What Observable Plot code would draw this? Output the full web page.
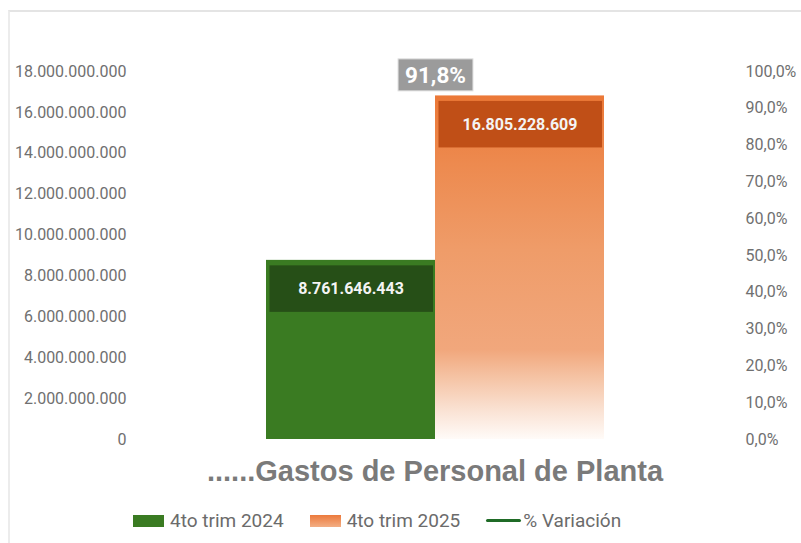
<!DOCTYPE html>
<html>
<head>
<meta charset="utf-8">
<script src="https://cdn.jsdelivr.net/npm/d3@7"></script>
<script src="https://cdn.jsdelivr.net/npm/@observablehq/plot@0.6"></script>
<style>
  body { margin: 0; background: #fff; }
  #wrap { position: relative; width: 801px; height: 543px; overflow: hidden; font-family: Roboto, "Liberation Sans", sans-serif; background:#fff; }
  #frame { position: absolute; left: 8px; top: 10px; right: -5px; bottom: -5px; border-left: 2px solid #ececec; border-top: 2px solid #e4e4e4; pointer-events: none; }
  #chart { position: absolute; left: 0; top: 0; }
  #title { position: absolute; left: 0; width: 870px; top: 455px; text-align: center; font: bold 29px "Liberation Sans", Arial, sans-serif; color: #7a7a7a; white-space: nowrap; }
  #legend { position: absolute; left: 133px; top: 509px; display: flex; align-items: center; font: 19px Roboto, sans-serif; color: #6b6b6b; white-space: nowrap; }
  .item { display: flex; align-items: center; margin-right: 26px; }
  .sw { width: 31px; height: 12px; margin-right: 6px; }
  .ln { width: 35px; height: 3px; margin-right: 2px; border-radius: 2px; }
</style>
</head>
<body>
<div id="wrap">
  <div id="chart"></div>
  <div id="title"></div>
  <div id="legend"></div>
  <div id="frame"></div>
</div>
<script>
// ---- data ----
const category = "......Gastos de Personal de Planta";
const series = ["4to trim 2024", "4to trim 2025"];
const values = [8761646443, 16805228609];
const valueLabels = ["8.761.646.443", "16.805.228.609"];
const variationName = "% Variación";
const variation = [0.918];
const variationLabel = ["91,8%"];
const leftTicks = [0, 2e9, 4e9, 6e9, 8e9, 10e9, 12e9, 14e9, 16e9, 18e9];
const rightTicks = [0, 0.1, 0.2, 0.3, 0.4, 0.5, 0.6, 0.7, 0.8, 0.9, 1.0];
const leftMax = 18e9;   // left axis maximum
const rightMax = 1.0;   // right axis maximum (100%)

// ---- styles ----
const seriesFill = ["#3a7b22", "url(#orangeGrad)"];
const boxFill = ["#264f17", "#c04f17"];

const data = series.map((s, i) => ({series: s, value: values[i], label: valueLabels[i]}));
const fmtLeft = d => d3.format(",")(d).replace(/,/g, ".");
const fmtRight = d => (d * 100).toFixed(1).replace(".", ",") + "%";
const toLeft = p => p / rightMax * leftMax;

function defs() {
  const d = d3.create("svg:defs");
  const g = d.append("linearGradient").attr("id", "orangeGrad")
    .attr("x1", 0).attr("y1", 0).attr("x2", 0).attr("y2", 1);
  [[0, "#eb7837"], [0.2, "#ed8a4f"], [0.45, "#ef9c69"], [0.74, "#f1a77c"],
   [0.82, "#f5c3a4"], [0.92, "#fae3d5"], [1, "#fffbf8"]]
    .forEach(([o, c]) => g.append("stop").attr("offset", o).attr("stop-color", c));
  return d.node();
}

const plot = Plot.plot({
  width: 801,
  height: 460,
  marginLeft: 135,
  marginRight: 66,
  marginTop: 71,
  marginBottom: 21,
  style: {fontFamily: "Roboto, sans-serif", fontSize: "16px", color: "#707070", background: "transparent"},
  x: {domain: series, range: [266, 604], padding: 0, axis: null},
  y: {domain: [0, leftMax], axis: null},
  color: {domain: series, range: seriesFill},
  marks: [
    defs,
    Plot.barY(data, {x: "series", y: "value", fill: "series"}),
    Plot.barY(data, {x: "series", y1: "value", y2: "value", fill: (d) => boxFill[series.indexOf(d.series)],
      insetLeft: 3.5, insetRight: 2, insetTop: 5.5, insetBottom: -52}),
    Plot.text(data, {x: "series", y: "value", text: "label", dy: 29, fill: "#f4f4f4",
      fontWeight: "bold", fontSize: 16}),
    Plot.axisY(leftTicks, {anchor: "left", label: null, tickSize: 0, tickPadding: 9, tickFormat: fmtLeft, fill: "#707070", fontSize: 16}),
    Plot.axisY(rightTicks.map(toLeft), {anchor: "right", label: null, tickSize: 0, tickPadding: 10,
      tickFormat: d => fmtRight(d / leftMax * rightMax), fill: "#707070", fontSize: 16}),
    Plot.text(variation, {y: d => toLeft(d), text: (d, i) => variationLabel[i], dy: -26,
      fill: "#ffffff", fontWeight: "bold", fontSize: 22.5})
  ]
});
document.getElementById("chart").appendChild(plot);

// gray box behind the variation label (same local frame as the text)
const pctText = Array.from(plot.querySelectorAll("text")).find(t => t.textContent === variationLabel[0]);
if (pctText) {
  const bb = pctText.getBBox();
  const cy = bb.y + bb.height / 2;
  const r = document.createElementNS("http://www.w3.org/2000/svg", "rect");
  r.setAttribute("x", bb.x - 7);
  r.setAttribute("y", cy - 16);
  r.setAttribute("width", bb.width + 14);
  r.setAttribute("height", 32);
  r.setAttribute("fill", "#9b9b9b");
  r.setAttribute("stroke", "#dedede");
  r.setAttribute("stroke-width", 1);
  const tf = pctText.getAttribute("transform");
  if (tf) r.setAttribute("transform", tf);
  pctText.parentNode.insertBefore(r, pctText);
}

document.getElementById("title").textContent = category;

// legend
const legend = document.getElementById("legend");
const swatchCss = ["#3a7b22", "linear-gradient(#ec7a3c, #f3ae84)"];
series.forEach((s, i) => {
  const it = document.createElement("div"); it.className = "item";
  const sw = document.createElement("div"); sw.className = "sw"; sw.style.background = swatchCss[i];
  const tx = document.createElement("span"); tx.textContent = s;
  it.append(sw, tx); legend.append(it);
});
{
  const it = document.createElement("div"); it.className = "item";
  const ln = document.createElement("div"); ln.className = "ln"; ln.style.background = "#1f6b26";
  const tx = document.createElement("span"); tx.textContent = variationName;
  it.append(ln, tx); legend.append(it);
}
</script>
</body>
</html>
